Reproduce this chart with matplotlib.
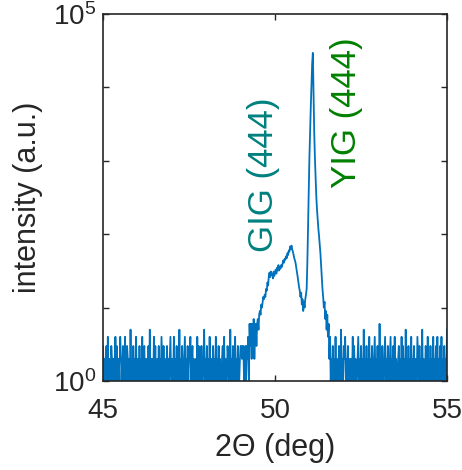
"""
XRD 2Theta scan: GIG (444) and YIG (444) reflections, log intensity.
Saved to out.png
"""

import matplotlib
matplotlib.use("Agg")
import matplotlib.pyplot as plt
import numpy as np

plt.rcParams["font.family"] = ["Liberation Sans", "DejaVu Sans"]
plt.rcParams["mathtext.fontset"] = "custom"
plt.rcParams["mathtext.rm"] = "Liberation Sans"
plt.rcParams["mathtext.it"] = "Liberation Sans:italic"

TEXT_COLOR = "#262626"
LINE_COLOR = "#0072BD"

# scan grid: 45..55 deg, 0.02 deg step (501 points)
THETA_START = 45.0
THETA_STOP = 55.0
N_POINTS = 501

# background counts, 45.00 .. 49.30 deg (216 points)
BASE_LEFT = (
    "3121231412" "1132122141" "3112142213" "2141132121" "5121312141"
    "2113121412" "3122113151" "2121413112" "1312142131" "2113121241"
    "1214121312" "1512131124" "1213122412" "3121121413" "1213112512"
    "1312141221" "3121412131" "2112314121" "1321151213" "2141213112"
    "3323312313" "241636"
)

# GIG + YIG peak region, 49.32 .. 51.60 deg (115 points)
PEAK_COUNTS = [
    2, 6, 3, 7, 2, 5, 6, 3, 6, 7,
    5, 8, 9, 8, 11, 10, 12, 14, 13, 15,
    14, 18, 17, 22, 20, 27, 30, 26, 31, 28,
    29, 25, 31, 27, 30, 33, 29, 35, 32, 38,
    32, 36, 34, 38, 36, 40, 44, 41, 46, 45,
    50, 47, 55, 52, 60, 58, 68, 63, 70, 62,
    58, 52, 47, 44, 40, 35, 30, 26, 22, 19,
    17, 14, 16, 11, 13, 9, 12, 10, 13, 15,
    18, 40, 120, 400, 1100, 2600, 5400, 11000, 21000, 29600,
    9000, 2500, 1100, 600, 330, 220, 160, 120, 95, 72,
    55, 38, 26, 18, 14, 10, 12, 7, 9, 5,
    8, 4, 6, 2, 4,
]

# background counts, 51.62 .. 55.00 deg (170 points)
BASE_RIGHT = (
    "1213121412" "1132151213" "2412131121" "2141312112" "4121312151"
    "2131214121" "3112412131" "1612131124" "1213112412" "1314121123"
    "1214131215" "1213121412" "1312114213" "1215121132" "1412131214"
    "1213141213" "1412131215"
)

X_TICKS = [45, 50, 55]
Y_DECADES = [0, 1, 2, 3, 4, 5]


def build_counts():
    left = [int(c) for c in BASE_LEFT]
    right = [int(c) for c in BASE_RIGHT]
    return np.array(left + PEAK_COUNTS + right, dtype=float)


def main():
    theta = np.linspace(THETA_START, THETA_STOP, N_POINTS)
    counts = build_counts()

    fig = plt.figure(figsize=(4.62, 4.70), dpi=100)
    ax = fig.add_axes([0.223, 0.1894, 0.7445, 0.7806])

    ax.plot(theta, counts, color=LINE_COLOR, linewidth=1.3)
    ax.set_yscale("log")
    ax.set_xlim(THETA_START, THETA_STOP)
    ax.set_ylim(10 ** Y_DECADES[0], 10 ** Y_DECADES[-1])

    ax.set_xticks(X_TICKS)
    ax.set_xticklabels([str(t) for t in X_TICKS])
    ax.set_yticks([10.0 ** d for d in Y_DECADES])
    ax.set_yticklabels(
        [f"$10^{{{d}}}$" if d in (Y_DECADES[0], Y_DECADES[-1]) else "" for d in Y_DECADES]
    )
    ax.yaxis.set_minor_locator(matplotlib.ticker.NullLocator())

    ax.tick_params(direction="in", length=4, width=1.0, top=True, right=True,
                   labelsize=20, colors=TEXT_COLOR)
    ax.tick_params(axis="x", pad=12)
    ax.tick_params(axis="y", pad=5)
    for spine in ax.spines.values():
        spine.set_color(TEXT_COLOR)
        spine.set_linewidth(1.2)

    ax.set_xlabel("2\u0398 (deg)", fontsize=22, color=TEXT_COLOR, va="center")
    ax.set_ylabel("intensity (a.u.)", fontsize=22, color=TEXT_COLOR, va="center")
    ax.xaxis.set_label_coords(0.5, -0.183)
    ax.yaxis.set_label_coords(-0.218, 0.5)

    ax.text(49.68, 640, "GIG (444)", rotation=90, fontsize=25, color="#008080",
            ha="center", va="center")
    ax.text(52.09, 4600, "YIG (444)", rotation=90, fontsize=25, color="#008000",
            ha="center", va="center")

    fig.savefig("out.png", dpi=100)


if __name__ == "__main__":
    main()
